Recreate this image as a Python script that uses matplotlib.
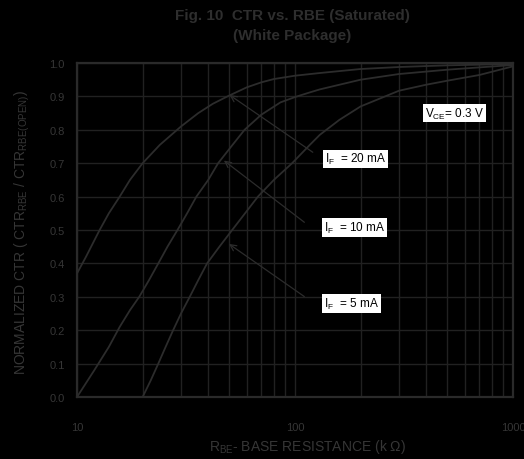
import matplotlib
matplotlib.use('Agg')
import matplotlib.pyplot as plt
from matplotlib.ticker import LogLocator, NullFormatter, FixedLocator, FixedFormatter

plt.rcParams['font.family'] = ['Liberation Sans', 'DejaVu Sans']
plt.rcParams['mathtext.fontset'] = 'custom'
plt.rcParams['mathtext.rm'] = 'Liberation Sans'
plt.rcParams['mathtext.it'] = 'Liberation Sans'

# CTR vs RBE (RBE in k ohm)
r_20ma = [10, 11, 12.7, 14, 15.7, 17.5, 20, 24, 30, 36, 42, 49, 60, 70, 80, 100, 130, 200, 300, 500, 1000]
ctr_20ma = [0.37, 0.42, 0.5, 0.55, 0.6, 0.65, 0.7, 0.755, 0.81, 0.85, 0.878, 0.9, 0.927, 0.942, 0.952,
            0.962, 0.970, 0.982, 0.988, 0.993, 0.997]

r_10ma = [10, 12, 14, 15.7, 17.5, 19.3, 21.4, 23.6, 26, 28.9, 32, 35.3, 40, 44.4, 51, 58.7, 70, 85.7,
          100, 117, 130, 200, 300, 500, 1000]
ctr_10ma = [0.0, 0.08, 0.15, 0.21, 0.26, 0.3, 0.35, 0.4, 0.45, 0.5, 0.55, 0.6, 0.65, 0.7, 0.75, 0.8,
            0.845, 0.882, 0.898, 0.912, 0.921, 0.95, 0.967, 0.98, 0.994]

r_5ma = [20, 21.8, 23.6, 25.5, 27.6, 30, 32.9, 36, 39.5, 45, 51.5, 59, 67.6, 80, 97, 117, 130, 160,
         200, 300, 400, 500, 700, 1000]
ctr_5ma = [0.0, 0.05, 0.1, 0.15, 0.2, 0.25, 0.3, 0.35, 0.4, 0.45, 0.5, 0.55, 0.6, 0.65, 0.7, 0.755,
           0.785, 0.83, 0.87, 0.917, 0.935, 0.947, 0.964, 0.99]

x_ticks = [10, 100, 1000]
x_ticklabels = ['10', '100', '1000']
y_ticks = [0.0, 0.1, 0.2, 0.3, 0.4, 0.5, 0.6, 0.7, 0.8, 0.9, 1.0]

txt = '#363636'
grid_c = '#212121'
line_c = '#2c2c2c'

fig = plt.figure(figsize=(5.24, 4.60), dpi=100, facecolor='black')
ax = fig.add_axes([77/524, 62/460, 436/524, 334/460], facecolor='black')

for r, c in [(r_20ma, ctr_20ma), (r_10ma, ctr_10ma), (r_5ma, ctr_5ma)]:
    ax.plot(r, c, color=line_c, linewidth=1.3, zorder=3)

ax.set_xscale('log')
ax.set_xlim(10, 1000)
ax.set_ylim(0, 1.0)
ax.xaxis.set_major_locator(FixedLocator(x_ticks))
ax.xaxis.set_major_formatter(FixedFormatter(x_ticklabels))
ax.xaxis.set_minor_locator(LogLocator(base=10, subs=range(2, 10)))
ax.xaxis.set_minor_formatter(NullFormatter())
ax.set_yticks(y_ticks)
ax.set_yticklabels(['%.1f' % v for v in y_ticks])
ax.grid(which='both', color=grid_c, linewidth=1.0, zorder=1)
ax.tick_params(axis='both', which='both', length=0, colors=txt, labelsize=8)
ax.tick_params(axis='x', pad=18)
ax.tick_params(axis='y', pad=9)
for s in ax.spines.values():
    s.set_color('#2a2a2a')
    s.set_linewidth(1.6)

# arrows from labels to curves
arrow = dict(arrowstyle='->', color=line_c, linewidth=0.9, mutation_scale=11)
ax.annotate('', xy=(48.9, 0.909), xytext=(123.6, 0.728), arrowprops=arrow)
ax.annotate('', xy=(46.1, 0.713), xytext=(113, 0.518), arrowprops=arrow)
ax.annotate('', xy=(48.6, 0.463), xytext=(113, 0.296), arrowprops=arrow)

box = dict(boxstyle='square,pad=0.15', facecolor='white', edgecolor='none')
ax.text(137, 0.713, r'I$_\mathrm{F}$  = 20 mA', fontsize=8.5, color='black',
        va='center', ha='left', bbox=box, zorder=5)
ax.text(136, 0.507, r'I$_\mathrm{F}$  = 10 mA', fontsize=8.5, color='black',
        va='center', ha='left', bbox=box, zorder=5)
ax.text(136, 0.28, r'I$_\mathrm{F}$  = 5 mA', fontsize=8.5, color='black',
        va='center', ha='left', bbox=box, zorder=5)
ax.text(393, 0.85, r'V$_\mathrm{CE}$= 0.3 V', fontsize=8.5, color='black',
        va='center', ha='left', bbox=box, zorder=5)

fig.text(292.5/524, 1 - 16/460, 'Fig. 10  CTR vs. RBE (Saturated)', ha='center', va='center',
         fontsize=11, fontweight='bold', color='#2e2e2e')
fig.text(292.5/524, 1 - 36/460, '(White Package)', ha='center', va='center',
         fontsize=11, fontweight='bold', color='#2e2e2e')

fig.text(307/524, 1 - 447/460, r'R$_\mathrm{BE}$- BASE RESISTANCE (k $\Omega$)', ha='center', va='center',
         fontsize=10, color=txt)
fig.text(22/524, 1 - 232/460, r'NORMALIZED CTR ( CTR$_\mathrm{RBE}$ / CTR$_\mathrm{RBE(OPEN)}$)',
         ha='center', va='center', rotation=90, fontsize=10, color=txt)

fig.savefig('out.png', dpi=100, facecolor='black')
